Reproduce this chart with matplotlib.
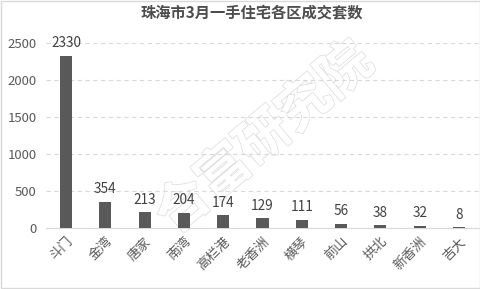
import matplotlib.pyplot as plt
import matplotlib.patheffects as pe
from matplotlib.patches import Rectangle

plt.rcParams["font.family"] = ["Noto Sans CJK SC", "DejaVu Sans"]

TITLE = "珠海市3月一手住宅各区成交套数"
districts = ["斗门", "金湾", "唐家", "南湾", "高栏港", "老香洲", "横琴", "前山", "拱北", "新香洲", "吉大"]
deals = [2330, 354, 213, 204, 174, 129, 111, 56, 38, 32, 8]
y_ticks = [0, 500, 1000, 1500, 2000, 2500]


def main():
    fig = plt.figure(figsize=(4.81, 2.89), dpi=100)
    ax = fig.add_axes([0.0965, 0.211, 0.8985, 0.64])
    ax.set_zorder(2)

    fig.patches.append(Rectangle((0.002, 0.003), 0.996, 0.994, transform=fig.transFigure,
                                 fill=False, edgecolor="#d9d9d9", linewidth=1))

    # faint outlined watermark behind the plot
    wm = fig.text(0.55, 0.52, "合富研究院", fontsize=38, color="white", rotation=40,
                  ha="center", va="center", zorder=1, fontweight="bold")
    wm.set_path_effects([pe.withStroke(linewidth=1.4, foreground="#e0e0e0"), pe.Normal()])

    x = range(len(districts))
    bars = ax.bar(x, deals, width=0.31, color="#595959", zorder=3)
    for rect, v in zip(bars, deals):
        ax.annotate(str(v), (rect.get_x() + rect.get_width() / 2, v), xytext=(0, 4),
                    textcoords="offset points", ha="center", va="bottom",
                    fontsize=9.8, color="#404040", zorder=4)

    ax.set_xlim(-0.5, len(districts) - 0.5)
    ax.set_ylim(0, 2500)
    ax.set_yticks(y_ticks)
    ax.yaxis.grid(True, linestyle=(0, (4, 3)), color="#d9d9d9", linewidth=0.8, zorder=0)
    ax.set_axisbelow(True)
    ax.patch.set_alpha(0)

    for side in ["top", "right", "left"]:
        ax.spines[side].set_visible(False)
    ax.spines["bottom"].set_color("#d9d9d9")

    ax.set_xticks(list(x))
    ax.set_xticklabels(districts, rotation=45, ha="right", rotation_mode="anchor")
    ax.tick_params(axis="x", length=0, pad=5, labelsize=9.5, labelcolor="#595959")
    ax.tick_params(axis="y", length=0, pad=7, labelsize=9.5, labelcolor="#595959")

    fig.text(0.524, 0.955, TITLE, ha="center", va="center", fontsize=11,
             fontweight="bold", color="#4d4d4d")

    fig.savefig("out.png", dpi=100)


if __name__ == "__main__":
    main()
